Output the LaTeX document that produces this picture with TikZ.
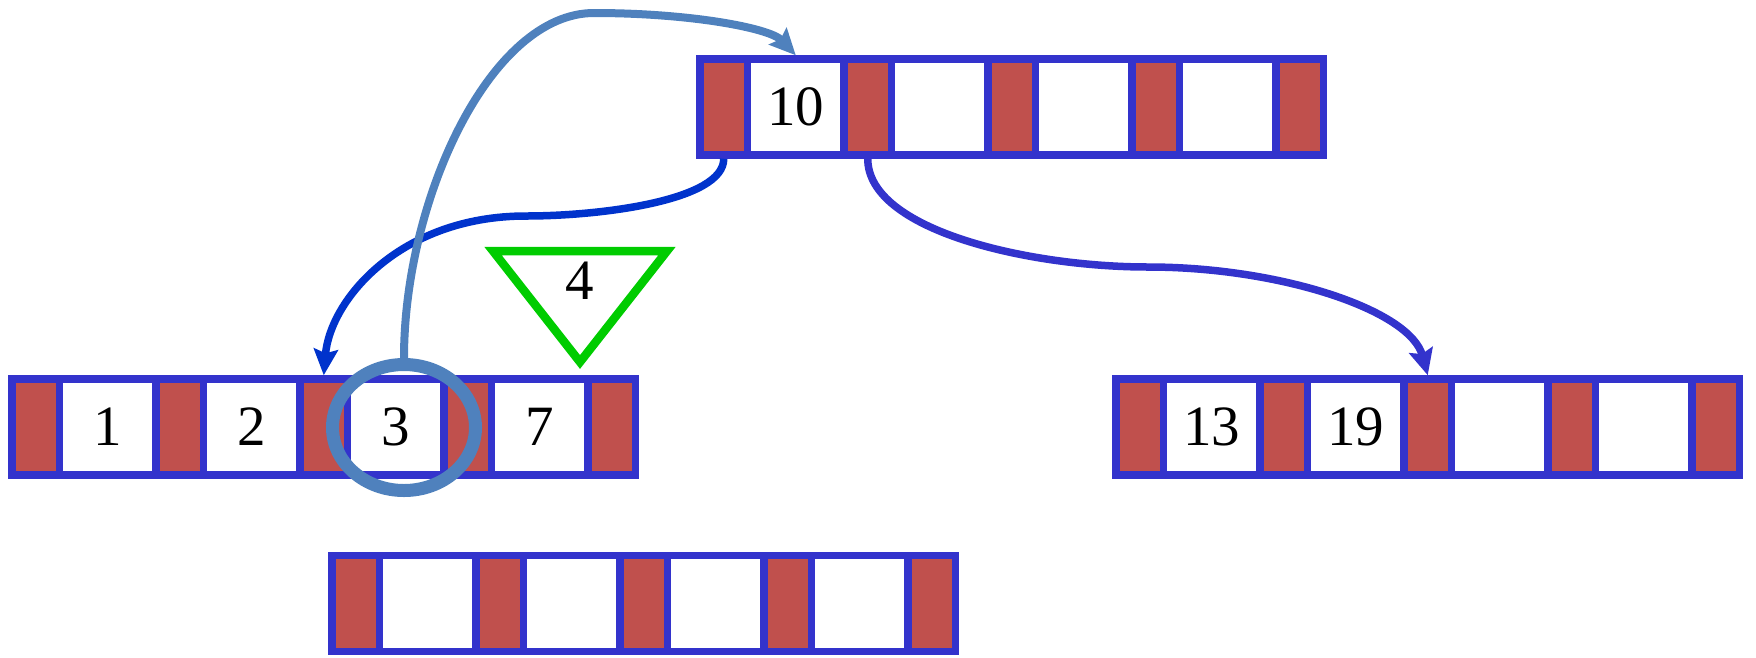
\documentclass[tikz,border=0pt]{standalone}
\usepackage{fontspec}
\setmainfont{Liberation Serif}
\usetikzlibrary{arrows.meta,shapes.geometric}
\definecolor{rowblue}{HTML}{3333CC}
\definecolor{cellred}{HTML}{C0504D}
\definecolor{steel}{HTML}{4F81BD}
\definecolor{darkarrow}{HTML}{0033CC}
\definecolor{trigreen}{HTML}{00CC00}
\tikzset{
  cellbase/.style={draw=rowblue, line width=7.5pt, minimum height=96pt, inner sep=0pt},
  redcell/.style={cellbase, fill=cellred, minimum width=47.5pt},
  whitecell/.style={cellbase, fill=white, minimum width=96.5pt, font=\fontsize{57}{60}\selectfont},
  ptr/.style={line width=7.5pt, -{Stealth[length=26pt,width=24pt,inset=4pt]}},
  digit/.style={font=\fontsize{57}{60}\selectfont, inner sep=0pt},
}
\newcommand\keyrow[4]{%
  \foreach \i in {0,...,4} \node[redcell] (#1r\i) at ({#2+\i*144+23.75},#3) {};
  \foreach \i/\t in {#4} \node[whitecell] (#1w\i) at ({#2+47.5+\i*144+48.25},#3) {\t};
}
\begin{document}
\begin{tikzpicture}[x=1pt,y=-1pt]
\useasboundingbox (0,0) rectangle (1756,657);
\keyrow{T}{700}{107}{0/10,1/{},2/{},3/{}}
\keyrow{L}{12}{427}{0/1,1/2,2/3,3/7}
\keyrow{R}{1116}{427}{0/13,1/19,2/{},3/{}}
\keyrow{B}{332}{603.5}{0/{},1/{},2/{},3/{}}
% triangle with 4
\coordinate (ta) at (493,251);
\coordinate (tb) at (667,251);
\coordinate (tc) at (580,362);
\draw[trigreen, line width=8.5pt, line join=miter] (ta) -- (tb) -- (tc) -- cycle;
\node[digit] (four) at (579.5,281) {4};
% highlight ring
\node[draw=steel, line width=13pt, ellipse, minimum width=143pt, minimum height=126pt, inner sep=0pt] (hl) at (404,427.5) {};
% pointers
\draw[ptr, darkarrow] (Tr0.south) .. controls +(0,42) and (600,216) .. (526,216)
   .. controls (400,216) and (330,300) .. (Lr2.north);
\draw[ptr, rowblue] (Tr1.south) .. controls +(0,72) and (1030,267) .. (1148,267)
   .. controls (1280,267) and (1410,310) .. (Rr2.north);
\draw[ptr, steel, line width=8pt] (hl.north) .. controls (404,200) and (490,13) .. (594,13)
   .. controls (690,13) and (770,28) .. (Tw0.north);
\end{tikzpicture}
\end{document}
